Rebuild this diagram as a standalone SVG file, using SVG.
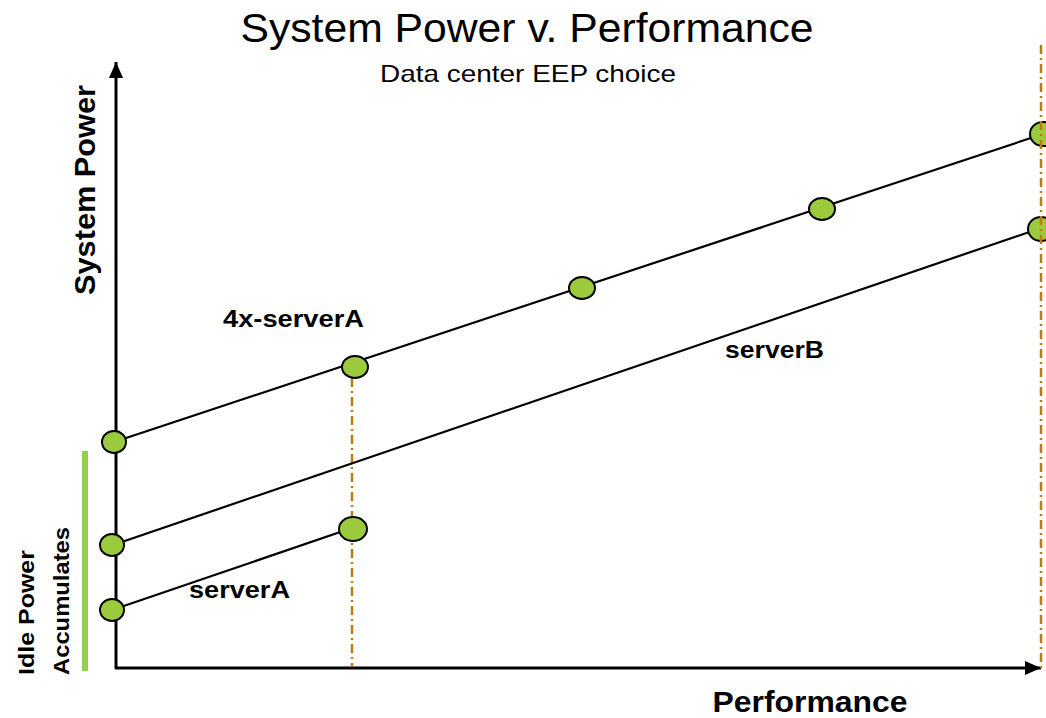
<svg xmlns="http://www.w3.org/2000/svg" width="1046" height="718" viewBox="0 0 1046 718">
<style>
.node{fill:#9BCB3C;stroke:#000;stroke-width:2}
.conn{stroke:#000;stroke-width:2.2;fill:none}
.axis{stroke:#000;stroke-width:3;fill:none}
.guide{stroke:#C07A14;stroke-width:2.5;fill:none;stroke-dasharray:9 4 2 4}
.t{font-family:"Liberation Sans",Arial,sans-serif;fill:#000}
.b{font-weight:bold}
</style>
<defs>
<marker id="ah" viewBox="0 0 16 14" refX="16" refY="7" markerWidth="16" markerHeight="14" markerUnits="userSpaceOnUse" orient="auto">
<path d="M0,0 L16,7 L0,14 Z" fill="#000"/>
</marker>
</defs>
<rect width="1046" height="718" fill="#fff"/>
<text class="t" x="527" y="42" font-size="41" text-anchor="middle" textLength="573" lengthAdjust="spacingAndGlyphs">System Power v. Performance</text>
<text class="t" x="528" y="82" font-size="24" text-anchor="middle" textLength="296" lengthAdjust="spacingAndGlyphs">Data center EEP choice</text>
<g id="axes">
<line class="axis" x1="116" y1="669" x2="116" y2="62" marker-end="url(#ah)"/>
<line class="axis" x1="115" y1="668" x2="1041" y2="668" marker-end="url(#ah)"/>
</g>
<text class="t b" transform="translate(95,190) rotate(-90)" font-size="29" text-anchor="middle" textLength="210" lengthAdjust="spacingAndGlyphs">System Power</text>
<text class="t b" x="810" y="712" font-size="30" text-anchor="middle" textLength="195" lengthAdjust="spacingAndGlyphs">Performance</text>
<rect id="idle-bar" x="82" y="451" width="6" height="220" fill="#92D050"/>
<text class="t b" transform="translate(34,675) rotate(-90)" font-size="22" textLength="125" lengthAdjust="spacingAndGlyphs">Idle Power</text>
<text class="t b" transform="translate(69,675) rotate(-90)" font-size="22" textLength="148" lengthAdjust="spacingAndGlyphs">Accumulates</text>
<line class="guide" x1="352" y1="378" x2="352" y2="667"/>
<g id="connectors">
<line class="conn" x1="114" y1="442" x2="1043" y2="134"/>
<line class="conn" x1="113" y1="545" x2="1041" y2="228"/>
<line class="conn" x1="112" y1="610" x2="352" y2="528"/>
</g>
<g id="n-4xA-0"><ellipse class="node" cx="114" cy="442" rx="12" ry="11"/></g>
<g id="n-4xA-1"><ellipse class="node" cx="355" cy="367" rx="13" ry="11"/></g>
<g id="n-4xA-2"><ellipse class="node" cx="582" cy="288" rx="13" ry="11"/></g>
<g id="n-4xA-3"><ellipse class="node" cx="822" cy="209" rx="13" ry="11"/></g>
<g id="n-4xA-4"><ellipse class="node" cx="1043" cy="134" rx="13" ry="12"/></g>
<g id="n-B-0"><ellipse class="node" cx="112" cy="545" rx="12" ry="11"/></g>
<g id="n-B-1"><ellipse class="node" cx="1041" cy="229" rx="13" ry="12"/></g>
<g id="n-A-0"><ellipse class="node" cx="112" cy="610" rx="12" ry="11"/></g>
<g id="n-A-1"><ellipse class="node" cx="353" cy="529" rx="14" ry="12"/></g>
<line class="guide" x1="1041" y1="45" x2="1041" y2="668"/>
<text class="t b" x="223" y="327" font-size="23" textLength="141" lengthAdjust="spacingAndGlyphs">4x-serverA</text>
<text class="t b" x="725" y="358" font-size="23" textLength="99" lengthAdjust="spacingAndGlyphs">serverB</text>
<text class="t b" x="189" y="598" font-size="23" textLength="101" lengthAdjust="spacingAndGlyphs">serverA</text>
</svg>
